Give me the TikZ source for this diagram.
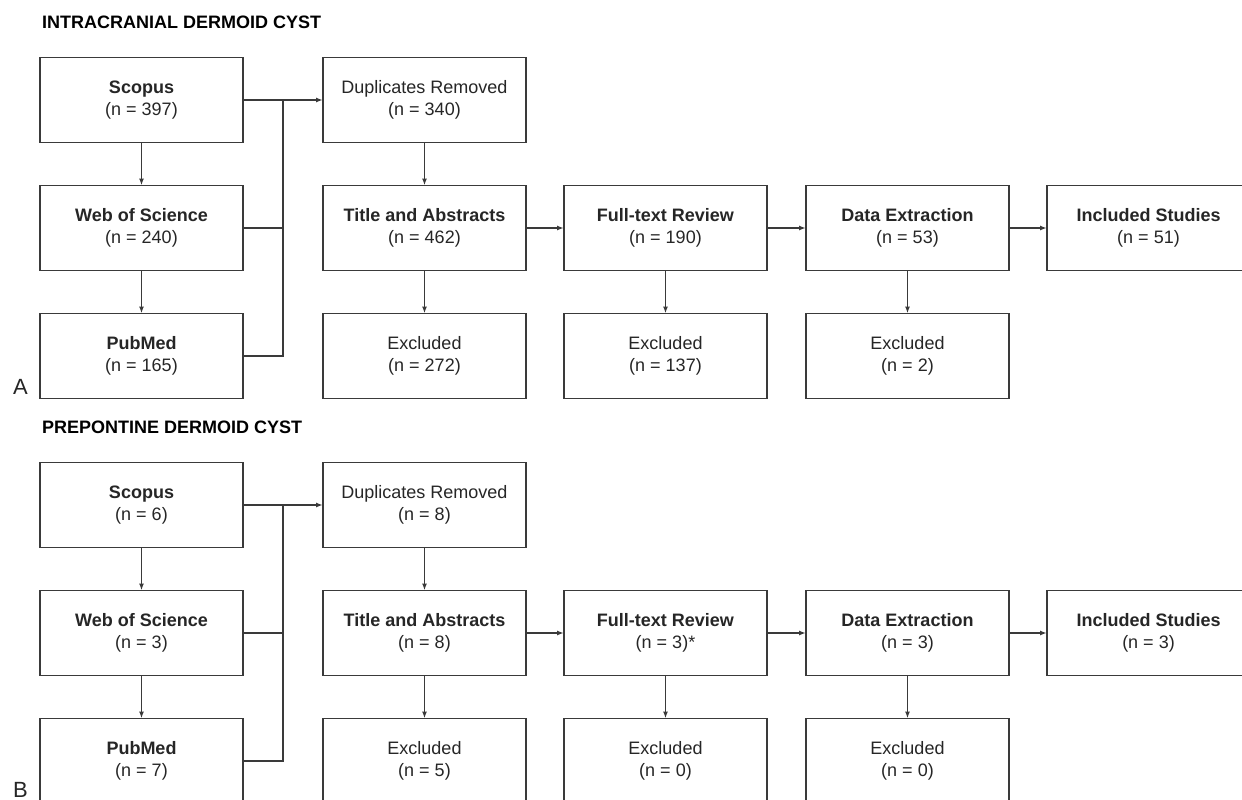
\documentclass[tikz,border=0pt]{standalone}
\usepackage{fontspec}
\setmainfont{Liberation Sans}
\usetikzlibrary{arrows.meta,positioning,calc}
\definecolor{linegray}{HTML}{3A3A3A}
\tikzset{
  box/.style={draw=linegray, line width=1.9pt, minimum width=203pt,
    minimum height=85pt, inner sep=0pt, outer sep=0pt, align=center,
    text=black!85, font=\fontsize{18}{21.5}\selectfont},
  link/.style={draw=linegray, line width=1.5pt},
  arr/.style={link, -{Latex[length=7pt,width=5pt]}},
  heading/.style={anchor=west, inner sep=0pt,
    font=\fontsize{18}{21}\selectfont\bfseries},
  panel/.style={inner sep=0pt, text=black!85, font=\fontsize{22}{26}\selectfont}
}

\begin{document}
\begin{tikzpicture}[x=1pt, y=-1pt, node distance=43pt and 38pt]
\useasboundingbox (0,0) rectangle (1242,800);
\clip (0,0) rectangle (1242,800);
\fill[white] (0,0) rectangle (1242,800);
% one pass per panel
\foreach \p/\yy/\ly/\ttl/\ns/\nw/\np/\nd/\nt/\nf/\st/\nx/\ni/\et/\ef/\ex in {
    A/0/387/INTRACRANIAL DERMOID CYST/397/240/165/340/462/190/{}/53/51/272/137/2,
    B/405/385/PREPONTINE DERMOID CYST/6/3/7/8/8/3/*/3/3/5/0/0} {
  % headings
  \node[heading] (head\p) at (42,22+\yy) {\ttl};
  \node[panel] (lbl\p) at (20.5,\ly+\yy) {\p};
  % sources
  \node[box] (scopus\p) at (141.5,100+\yy) {\textbf{Scopus}\\(n = \ns)};
  \node[box, below=of scopus\p] (wos\p) {\textbf{Web of Science}\\(n = \nw)};
  \node[box, below=of wos\p] (pubmed\p) {\textbf{PubMed}\\(n = \np)};
  % screening chain
  \node[box, right=80pt of scopus\p] (dup\p) {Duplicates Removed\\(n = \nd)};
  \node[box, below=of dup\p] (title\p) {\textbf{Title and Abstracts}\\(n = \nt)};
  \node[box, right=of title\p] (full\p) {\textbf{Full-text Review}\\(n = \nf)\st};
  \node[box, right=39pt of full\p] (data\p) {\textbf{Data Extraction}\\(n = \nx)};
  \node[box, right=of data\p] (incl\p) {\textbf{Included Studies}\\(n = \ni)};
  % exclusions
  \node[box, below=of title\p] (extitle\p) {Excluded\\(n = \et)};
  \node[box, below=of full\p] (exfull\p) {Excluded\\(n = \ef)};
  \node[box, below=of data\p] (exdata\p) {Excluded\\(n = \ex)};
  % connectors
  \coordinate (merge\p) at ($(scopus\p.east)!0.5!(dup\p.west)$);
  \draw[arr] (scopus\p) -- (wos\p);
  \draw[arr] (wos\p) -- (pubmed\p);
  \draw[link] (pubmed\p.east) -| (merge\p);
  \draw[link] (wos\p.east) -| (merge\p);
  \draw[arr] (scopus\p.east) -- (dup\p.west);
  \draw[arr] (dup\p) -- (title\p);
  \draw[arr] (title\p) -- (full\p);
  \draw[arr] (full\p) -- (data\p);
  \draw[arr] (data\p) -- (incl\p);
  \draw[arr] (title\p) -- (extitle\p);
  \draw[arr] (full\p) -- (exfull\p);
  \draw[arr] (data\p) -- (exdata\p);
}
\end{tikzpicture}
\end{document}
